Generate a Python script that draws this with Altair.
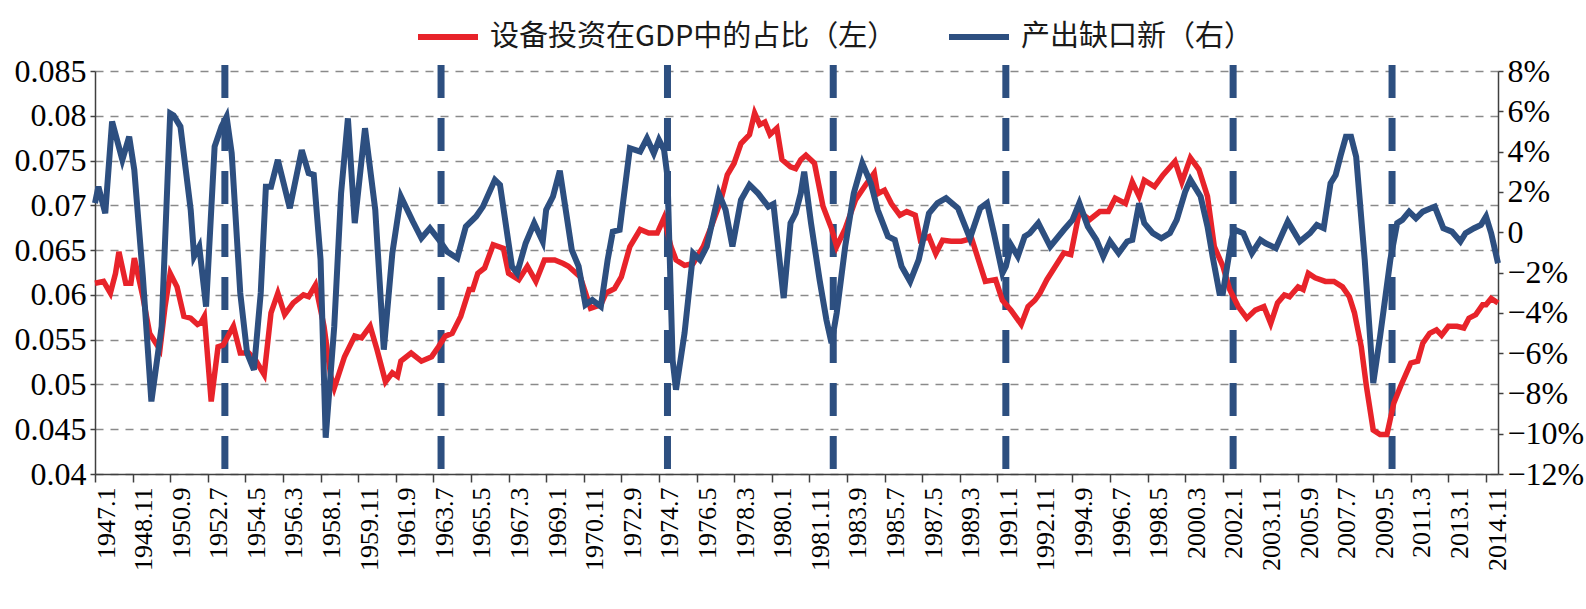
import altair as alt
import pandas as pd

# Time axis: months counted from January 1947 (t = 0 is 1947.1)
tick_labels = [
    "1947.1", "1948.11", "1950.9", "1952.7", "1954.5", "1956.3", "1958.1", "1959.11",
    "1961.9", "1963.7", "1965.5", "1967.3", "1969.1", "1970.11", "1972.9", "1974.7",
    "1976.5", "1978.3", "1980.1", "1981.11", "1983.9", "1985.7", "1987.5", "1989.3",
    "1991.1", "1992.11", "1994.9", "1996.7", "1998.5", "2000.3", "2002.1", "2003.11",
    "2005.9", "2007.7", "2009.5", "2011.3", "2013.1", "2014.11",
]
tick_step = 22
tick_t = [i * tick_step for i in range(len(tick_labels))]

# Equipment investment as a share of GDP (left axis)
share_t = [
    0, 5, 9, 12, 14, 18, 21, 23, 28, 32, 38, 41, 44, 48, 52, 56, 60, 62, 64, 68,
    72, 75, 81, 85, 90, 94, 99, 103, 107, 111, 116, 122, 125, 129, 134, 138, 140, 146, 152, 156,
    161, 165, 170, 174, 177, 179, 185, 191, 197, 201, 205, 209, 214, 219, 221, 224, 228, 233, 239, 242,
    248, 253, 258, 263, 269, 274, 277, 284, 290, 296, 299, 304, 308, 313, 319, 324, 329, 333, 337, 340,
    345, 350, 356, 361, 366, 370, 374, 378, 383, 386, 389, 392, 395, 399, 402, 407, 410, 413, 416, 421,
    426, 431, 434, 439, 445, 451, 456, 458, 462, 466, 471, 475, 480, 483, 488, 492, 496, 501, 507, 513,
    517, 521, 527, 531, 536, 542, 546, 550, 553, 557, 562, 567, 571, 576, 582, 588, 593, 597, 603, 607,
    611, 614, 620, 625, 632, 636, 641, 646, 651, 655, 660, 664, 669, 674, 679, 684, 688, 692, 696, 699,
    704, 707, 710, 714, 720, 725, 730, 734, 737, 741, 744, 748, 752, 756, 760, 764, 767, 770, 774, 777,
    781, 785, 788, 792, 797, 801, 804, 808, 812, 814, 817, 821,
]
share_v = [
    0.0613, 0.0615, 0.0602, 0.0624, 0.0648, 0.0613, 0.0613, 0.0641, 0.0598, 0.0557,
    0.0539, 0.0587, 0.0624, 0.0609, 0.0576, 0.0574, 0.0567, 0.0569, 0.0576, 0.0481,
    0.0542, 0.0544, 0.0565, 0.0535, 0.0535, 0.0527, 0.0511, 0.0580, 0.0602, 0.0578,
    0.0591, 0.0600, 0.0598, 0.0611, 0.0565, 0.0509, 0.0496, 0.0531, 0.0554, 0.0552,
    0.0565, 0.0539, 0.0503, 0.0513, 0.0509, 0.0526, 0.0535, 0.0526, 0.0531, 0.0542,
    0.0554, 0.0557, 0.0576, 0.0606, 0.0606, 0.0624, 0.0630, 0.0656, 0.0652, 0.0624,
    0.0617, 0.0632, 0.0615, 0.0639, 0.0639, 0.0635, 0.0632, 0.0620, 0.0585, 0.0589,
    0.0602, 0.0607, 0.0620, 0.0654, 0.0673, 0.0669, 0.0669, 0.0686, 0.0654, 0.0639,
    0.0633, 0.0635, 0.0654, 0.0678, 0.0704, 0.0734, 0.0747, 0.0769, 0.0779, 0.0803,
    0.0790, 0.0793, 0.0779, 0.0786, 0.0751, 0.0743, 0.0741, 0.0751, 0.0756, 0.0747,
    0.0699, 0.0674, 0.0654, 0.0674, 0.0706, 0.0723, 0.0736, 0.0713, 0.0717, 0.0702,
    0.0689, 0.0693, 0.0689, 0.0661, 0.0665, 0.0646, 0.0661, 0.0660, 0.0660, 0.0663,
    0.0639, 0.0615, 0.0617, 0.0594, 0.0583, 0.0567, 0.0587, 0.0594, 0.0602, 0.0617,
    0.0632, 0.0647, 0.0645, 0.0693, 0.0684, 0.0693, 0.0693, 0.0708, 0.0702, 0.0726,
    0.0710, 0.0728, 0.0721, 0.0734, 0.0749, 0.0726, 0.0753, 0.0740, 0.0710, 0.0654,
    0.0632, 0.0606, 0.0587, 0.0574, 0.0583, 0.0587, 0.0568, 0.0591, 0.0600, 0.0598,
    0.0609, 0.0606, 0.0624, 0.0619, 0.0615, 0.0615, 0.0609, 0.0598, 0.0580, 0.0542,
    0.0498, 0.0449, 0.0444, 0.0444, 0.0479, 0.0498, 0.0511, 0.0524, 0.0526, 0.0546,
    0.0557, 0.0561, 0.0555, 0.0565, 0.0565, 0.0563, 0.0574, 0.0578, 0.0589, 0.0589,
    0.0596, 0.0591,
]

# Output gap in percent (right axis)
gap_t = [
    0, 2, 6, 10, 16, 20, 23, 28, 33, 39, 44, 46, 50, 56, 58, 61, 65, 70, 74, 77,
    80, 85, 89, 93, 97, 100, 103, 107, 114, 121, 125, 128, 132, 135, 140, 144, 148, 152, 158, 164,
    169, 174, 179, 186, 191, 196, 202, 206, 212, 217, 223, 227, 234, 237, 244, 247, 252, 257, 262, 264,
    268, 272, 279, 283, 287, 291, 296, 300, 303, 307, 313, 319, 323, 327, 330, 333, 335, 338, 340, 345,
    350, 354, 358, 365, 369, 373, 378, 383, 388, 394, 397, 403, 407, 410, 413, 415, 419, 424, 428, 431,
    434, 439, 444, 449, 454, 458, 464, 468, 472, 477, 482, 488, 493, 498, 505, 512, 518, 522, 526, 531,
    533, 536, 540, 544, 547, 552, 559, 567, 572, 576, 581, 586, 590, 594, 599, 604, 607, 611, 614, 619,
    624, 629, 633, 638, 641, 647, 651, 654, 658, 660, 665, 667, 672, 677, 682, 685, 691, 698, 705, 711,
    715, 719, 723, 726, 729, 732, 735, 738, 743, 748, 752, 758, 762, 765, 769, 773, 777, 784, 789, 794,
    799, 802, 807, 811, 814, 817, 821,
]
gap_v = [
    1.44, 2.26, 0.94, 5.49, 3.59, 4.74, 3.09, -2.2, -8.4, -4.68, 5.9, 5.8, 5.24, 1.11, -1.2, -0.71,
    -3.69, 4.25, 5.24, 5.74, 3.92, -3.02, -6.0, -6.83, -3.0, 2.26, 2.26, 3.59, 1.19, 4.08, 2.93, 2.85,
    -1.37, -10.2, -4.68, 1.93, 5.65, 0.45, 5.16, 1.11, -5.83, -1.04, 1.77, 0.53, -0.3, 0.2, -0.46, -0.96,
    -1.29, 0.28, 0.78, 1.27, 2.6, 2.35, -1.7, -2.03, -0.55, 0.45, -0.46, 1.11, 1.77, 3.05, -0.88, -1.7,
    -3.6, -3.36, -3.69, -1.37, 0.03, 0.12, 4.17, 4.0, 4.66, 3.92, 4.58, 4.08, 2.76, -6.33, -7.82, -5.0,
    -1.04, -1.37, -0.71, 1.93, 1.11, -0.71, 1.6, 2.35, 1.93, 1.27, 1.4, -3.27, 0.45, 0.94, 1.93, 3.0,
    0.45, -2.36, -4.35, -5.5, -4.02, -0.71, 1.93, 3.42, 2.43, 1.11, -0.21, -0.38, -1.7, -2.45, -1.37, 0.94,
    1.45, 1.69, 1.19, -0.3, 1.19, 1.44, -0.05, -2.03, -1.7, -0.63, -1.2, -0.21, -0.05, 0.45, -0.71, 0.12,
    0.61, 1.44, 0.28, -0.38, -1.2, -0.46, -1.04, -0.46, -0.38, 1.44, 0.45, -0.05, -0.3, -0.05, 0.61, 2.02,
    2.6, 1.77, 0.28, -1.2, -3.02, -3.02, -0.38, 0.12, -0.05, -1.04, -0.38, -0.55, -0.79, 0.53, -0.46, -0.05,
    0.36, 0.2, 2.43, 2.84, 3.83, 4.74, 4.74, 3.75, -1.37, -7.49, -5.17, -1.37, 0.45, 0.61, 1.02, 0.69,
    1.02, 1.27, 0.2, 0.03, -0.46, -0.05, 0.2, 0.36, 0.78, -0.05, -1.54,
]

# Vertical dashed markers
marker_t = [76, 202.5, 335, 432, 533, 666, 759]

series_names = ["设备投资在GDP中的占比（左）", "产出缺口新（右）"]
series_colors = ["#E8232A", "#2D4F80"]

share_ticks = [0.04, 0.045, 0.05, 0.055, 0.06, 0.065, 0.07, 0.075, 0.08, 0.085]
gap_ticks = [-12, -10, -8, -6, -4, -2, 0, 2, 4, 6, 8]

W, H = 1403, 403
AXIS_COLOR = "#404040"
NUM_FONT = "Liberation Serif"

df_share = pd.DataFrame({"t": share_t, "v": share_v, "series": series_names[0]})
df_gap = pd.DataFrame({"t": gap_t, "v": gap_v, "series": series_names[1]})
df_marker = pd.DataFrame({"t": marker_t})

x_scale = alt.Scale(domain=[0, 821], nice=False, zero=False)
color_scale = alt.Scale(domain=series_names, range=series_colors)

label_list = "[" + ",".join(f"'{s}'" for s in tick_labels) + "]"
x_axis = alt.Axis(
    values=tick_t,
    labelExpr=f"{label_list}[round(datum.value / {tick_step})]",
    labelAngle=270,
    labelOffset=11,
    labelPadding=5,
    labelFontSize=26,
    tickSize=8,
    grid=False,
    title=None,
)

legend = alt.Legend(
    orient="none",
    legendX=320,
    legendY=-67,
    direction="horizontal",
    title=None,
    symbolType="stroke",
    symbolSize=3600,
    symbolStrokeWidth=6,
    labelFont="Noto Sans CJK SC",
    labelFontSize=29,
    labelColor="#1a1a1a",
    labelLimit=0,
    labelOffset=9,
    columnPadding=40,
)

markers = alt.Chart(df_marker).mark_rule(
    color=series_colors[1], strokeWidth=7, strokeDash=[33, 20]
).encode(
    x=alt.X("t:Q", scale=x_scale, axis=x_axis),
    y=alt.value(-6),
    y2=alt.value(H + 9),
)

share_line = alt.Chart(df_share).mark_line(strokeWidth=5.5).encode(
    x=alt.X("t:Q", scale=x_scale, axis=x_axis),
    y=alt.Y(
        "v:Q",
        scale=alt.Scale(domain=[0.04, 0.085], nice=False, zero=False),
        axis=alt.Axis(
            values=share_ticks,
            format=".3~f",
            orient="left",
            labelFontSize=32,
            labelPadding=4,
            tickSize=5,
            grid=True,
            gridColor="#8a8a8a",
            gridDash=[8, 7],
            gridWidth=1.5,
            title=None,
        ),
    ),
    color=alt.Color("series:N", scale=color_scale, legend=legend),
)

gap_line = alt.Chart(df_gap).mark_line(strokeWidth=6).encode(
    x=alt.X("t:Q", scale=x_scale, axis=x_axis),
    y=alt.Y(
        "v:Q",
        scale=alt.Scale(domain=[-12, 8], nice=False, zero=False),
        axis=alt.Axis(
            values=gap_ticks,
            labelExpr="datum.value == 0 ? '0' : format(datum.value, 'd') + '%'",
            orient="right",
            labelFontSize=32,
            labelPadding=4,
            tickSize=5,
            grid=False,
            title=None,
        ),
    ),
    color=alt.Color("series:N", scale=color_scale, legend=legend),
)

chart = (
    alt.layer(markers, share_line, gap_line)
    .resolve_scale(y="independent")
    .properties(
        width=W,
        height=H,
        padding={"left": 95, "top": 71, "right": 88, "bottom": 135},
        autosize=alt.AutoSizeParams(type="none"),
        background="#ffffff",
    )
    .configure_view(stroke=None)
    .configure_axis(
        labelFont=NUM_FONT,
        labelColor="#000000",
        domainColor=AXIS_COLOR,
        domainWidth=1.5,
        tickColor=AXIS_COLOR,
        tickWidth=1.5,
    )
)

chart.save("out.html", embed_options={"renderer": "svg", "actions": False})
